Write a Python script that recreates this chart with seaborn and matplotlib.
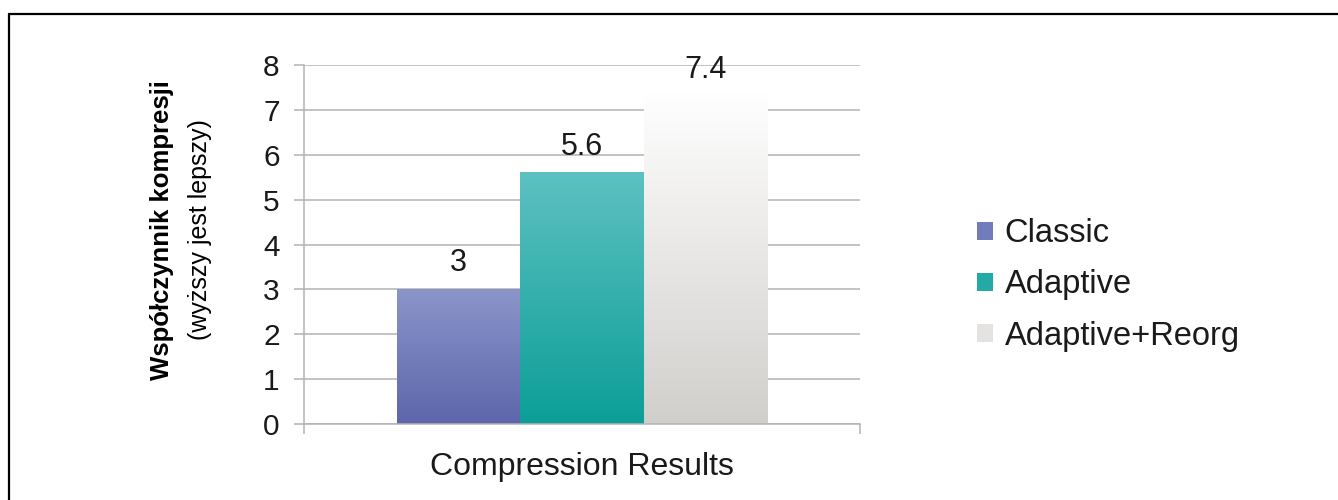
import numpy as np
import pandas as pd
import matplotlib
matplotlib.use("Agg")
import matplotlib.pyplot as plt
import seaborn as sns
from matplotlib.colors import LinearSegmentedColormap
from matplotlib.patches import Patch
from matplotlib.lines import Line2D

# ---- data ----
category = ["Compression Results"]
methods = ["Classic", "Adaptive", "Adaptive+Reorg"]
ratios = [3.0, 5.6, 7.4]
value_labels = ["3", "5.6", "7.4"]
y_ticks = [0, 1, 2, 3, 4, 5, 6, 7, 8]
ylabel_main = "Współczynnik kompresji"
ylabel_sub = "(wyższy jest lepszy)"

# gradient colours (top, bottom) per series
grad_top = ["#8b95c9", "#5dc1c1", "#ffffff"]
grad_bottom = ["#5d66ab", "#0c9e98", "#d1cfcc"]
legend_colors = ["#727cbc", "#23aaa6", "#e4e3e2"]

sns.set_theme(style="white")
plt.rcParams["font.family"] = ["Liberation Sans", "DejaVu Sans"]

W, H = 1338, 500
fig = plt.figure(figsize=(W / 100, H / 100), dpi=100)
ax = fig.add_axes([304 / W, 1 - 424 / H, (860 - 304) / W, (424 - 65) / H])

df = pd.DataFrame({
    "group": category * len(methods),
    "method": methods,
    "ratio": ratios,
})

sns.barplot(data=df, x="group", y="ratio", hue="method", hue_order=methods,
            palette=legend_colors, width=0.665, ax=ax, legend=False,
            saturation=1, zorder=2)

# gradient fill for each bar
bars = [p for p in ax.patches]
for i, p in enumerate(bars):
    x0, y0, w, h = p.get_x(), p.get_y(), p.get_width(), p.get_height()
    cmap = LinearSegmentedColormap.from_list(f"g{i}", [grad_bottom[i], grad_top[i]])
    grad = np.linspace(0, 1, 256).reshape(-1, 1)
    ax.imshow(grad, extent=[x0, x0 + w, y0, y0 + h], aspect="auto",
              cmap=cmap, origin="lower", zorder=2.5)
    p.set_facecolor("none")
    p.set_edgecolor("none")
    # value label
    ytxt = min(y0 + h + 0.58, 7.88)
    ax.text(x0 + w / 2, ytxt, value_labels[i], ha="center", va="center",
            fontsize=22, color="#1a1a1a", zorder=4)

ax.set_xlim(-0.5, 0.5)
ax.set_ylim(0, 8)
ax.set_yticks(y_ticks)
ax.set_yticklabels([str(t) for t in y_ticks])

grid_c = "#b3b3b3"
ax.yaxis.grid(True, color=grid_c, linewidth=1.1, zorder=0)
ax.set_axisbelow(True)
for s in ["top", "right"]:
    ax.spines[s].set_visible(False)
for s in ["left", "bottom"]:
    ax.spines[s].set_color(grid_c)
    ax.spines[s].set_linewidth(1.1)

ax.tick_params(axis="y", which="major", length=7.5, width=1.1, color=grid_c,
               pad=10, labelsize=21.5, labelcolor="#1a1a1a", left=True)
ax.set_xticks([-0.5, 0.5], minor=True)
ax.tick_params(axis="x", which="minor", length=7, width=1.1, color=grid_c,
               bottom=True, direction="out")
ax.tick_params(axis="x", which="major", length=0, pad=20, labelsize=23,
               labelcolor="#1a1a1a")
ax.set_xlabel("")
ax.set_ylabel("")

# two-line y label
fig.text(162 / W, 1 - 230 / H, ylabel_main, rotation=90, ha="center", va="center",
         fontsize=18.5, fontweight="bold", color="#000000")
fig.text(200 / W, 1 - 230 / H, ylabel_sub, rotation=90, ha="center", va="center",
         fontsize=18, color="#000000")

# legend
handles = [Patch(facecolor=c, edgecolor="none") for c in legend_colors]
fig.legend(handles, methods, loc="center left", bbox_to_anchor=(977 / W, 1 - 285 / H),
           frameon=False, fontsize=23.5, handlelength=0.5, handleheight=0.48,
           handletextpad=0.35, labelspacing=0.62, borderaxespad=0, borderpad=0,
           labelcolor="#1a1a1a")

# partial frame (top and left edges)
fig.add_artist(Line2D([8.5 / W, 8.5 / W], [0, 1 - 13.5 / H], transform=fig.transFigure,
                      color="black", linewidth=1.6))
fig.add_artist(Line2D([8.5 / W, 1], [1 - 13.5 / H, 1 - 13.5 / H], transform=fig.transFigure,
                      color="black", linewidth=1.6))

fig.savefig("out.png", dpi=100, facecolor="white")
